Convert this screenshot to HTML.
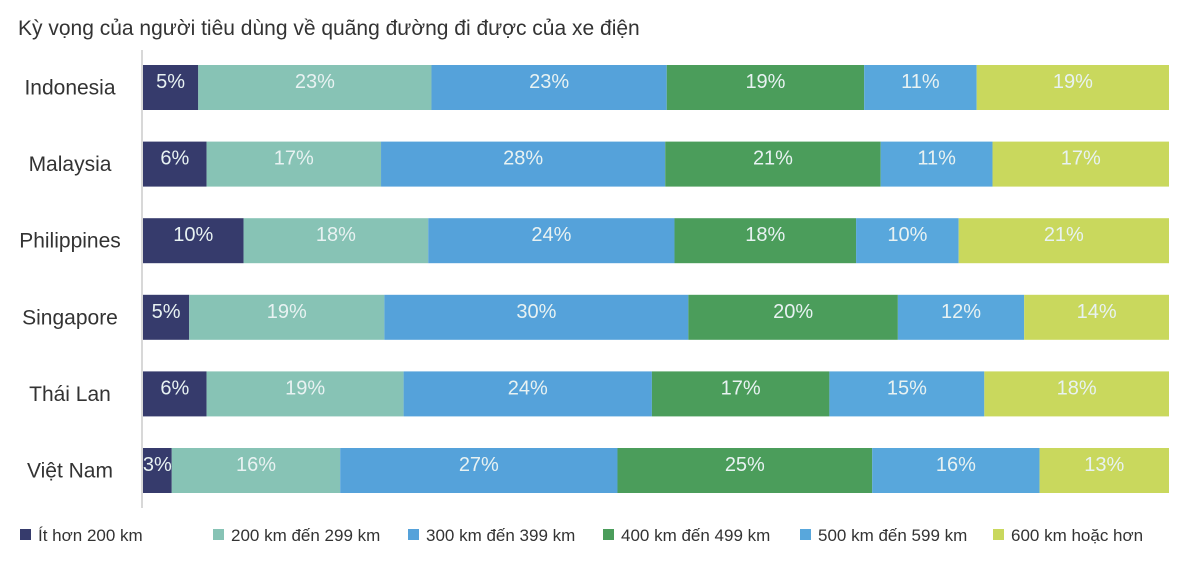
<!DOCTYPE html>
<html><head><meta charset="utf-8"><style>
body{margin:0;background:#fff;width:1200px;height:556px;overflow:hidden;font-family:"Liberation Sans","Noto Sans CJK SC",sans-serif;}
svg text{font-family:"Liberation Sans","Noto Sans CJK SC",sans-serif;}
</style></head><body>
<svg id="chart" width="1200" height="556" viewBox="0 0 1200 556" xmlns="http://www.w3.org/2000/svg">
<text x="18" y="35" font-size="21" fill="#333">Kỳ vọng của người tiêu dùng về quãng đường đi được của xe điện</text>
<line x1="142" y1="50" x2="142" y2="508" stroke="#ccc" stroke-width="1.5"/>
<g id="bars"></g><g id="legend"></g>
</svg>
<script>
const categories = ["Indonesia","Malaysia","Philippines","Singapore","Thái Lan","Việt Nam"];
const seriesNames = ["Ít hơn 200 km","200 km đến 299 km","300 km đến 399 km","400 km đến 499 km","500 km đến 599 km","600 km hoặc hơn"];
const s1 = [5.4,6.2,9.8,4.5,6.2,2.8];
const s2 = [22.8,17,18,19,19.2,16.4];
const s3 = [23,27.7,24,29.6,24.2,27];
const s4 = [19.3,21,17.7,20.4,17.3,24.8];
const s5 = [11,10.9,10,12.3,15.1,16.3];
const s6 = [18.8,17.2,20.5,14.1,18,12.6];
const series = [s1,s2,s3,s4,s5,s6];
const colors = ["#363b6c","#87c3b5","#55a2da","#4b9d5b","#58a7dc","#c9d85d"];
const NS="http://www.w3.org/2000/svg";
const x0=143, x1=1169, top0=65, step=76.6, bh=45;
const xs = v => x0 + v/100*(x1-x0);
const bars=document.getElementById('bars');
categories.forEach((c,i)=>{
  const y=top0+i*step;
  const lab=document.createElementNS(NS,'text');
  
  
  lab.setAttribute('x',70);lab.setAttribute('y',y+bh/2+7);lab.setAttribute('text-anchor','middle');
  lab.setAttribute('font-size','21');lab.setAttribute('fill','#333');lab.textContent=c;bars.appendChild(lab);
  const total=series.reduce((a,s)=>a+s[i],0);
  let cum=0;
  series.forEach((s,k)=>{
    const v=s[i]/total*100;
    const xa=xs(cum), xb=xs(cum+v);cum+=v;
    const r=document.createElementNS(NS,'rect');
    
    
    r.setAttribute('x',xa);r.setAttribute('y',y);r.setAttribute('width',xb-xa);r.setAttribute('height',bh);r.setAttribute('fill',colors[k]);
    bars.appendChild(r);
    const t=document.createElementNS(NS,'text');
    
    
    t.setAttribute('x',(xa+xb)/2);t.setAttribute('y',y+23);t.setAttribute('text-anchor','middle');
    t.setAttribute('font-size','20');t.setAttribute('fill','#e8f2f2');t.textContent=Math.round(s[i])+'%';
    bars.appendChild(t);
  });
});
const lx=[20,213,408,603,800,993];
const lg=document.getElementById('legend');
seriesNames.forEach((n,k)=>{
  const r=document.createElementNS(NS,'rect');
  
  
  r.setAttribute('x',lx[k]);r.setAttribute('y',529);r.setAttribute('width',11);r.setAttribute('height',11);r.setAttribute('fill',colors[k]);
  lg.appendChild(r);
  const t=document.createElementNS(NS,'text');
  
  
  t.setAttribute('x',lx[k]+18);t.setAttribute('y',541);t.setAttribute('font-size','17');t.setAttribute('fill','#333');t.textContent=n;
  lg.appendChild(t);
});
</script>
</body></html>
